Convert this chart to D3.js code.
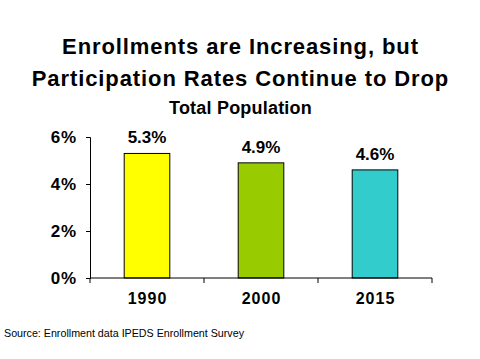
<!DOCTYPE html>
<html><head><meta charset="utf-8">
<script src="https://cdn.jsdelivr.net/npm/d3@7"></script>
<style>body{margin:0;background:#fff}svg{display:block}text{font-family:Arial,"Liberation Sans",sans-serif}</style>
</head><body>
<script>
const categories = ["1990", "2000", "2015"];
const values = [5.3, 4.9, 4.6];
const valueLabels = ["5.3%", "4.9%", "4.6%"];
const colors = ["#FFFF00", "#99CC00", "#33CCCC"];
const yTicks = [0, 2, 4, 6];
const titleLines = ["Enrollments are Increasing, but", "Participation Rates Continue to Drop"];
const subtitle = "Total Population";
const source = "Source: Enrollment data IPEDS Enrollment Survey";

const W = 480, H = 359;
const svg = d3.select("body").append("svg").attr("width", W).attr("height", H);

const x = d3.scaleBand().domain(categories).range([90, 432]).paddingInner(0.6).paddingOuter(0.3);
const y = d3.scaleLinear().domain([0, 6]).range([278, 137]);

svg.selectAll("text.title").data(titleLines).enter().append("text")
  .attr("x", 240.5).attr("y", (d, i) => 54 + i * 32)
  .attr("text-anchor", "middle").attr("font-size", 22).attr("font-weight", "bold")
  .attr("letter-spacing", 0.9).text(d => d);
svg.append("text").attr("x", 240.5).attr("y", 114).attr("text-anchor", "middle")
  .attr("font-size", 18).attr("font-weight", "bold").attr("letter-spacing", 0.2).text(subtitle);

svg.selectAll("rect.bar").data(values).enter().append("rect")
  .attr("x", (d, i) => x(categories[i])).attr("width", x.bandwidth())
  .attr("y", d => y(d)).attr("height", d => y(0) - y(d))
  .attr("fill", (d, i) => colors[i]).attr("stroke", "#000").attr("stroke-width", 1);

svg.selectAll("text.vl").data(values).enter().append("text")
  .attr("x", (d, i) => x(categories[i]) + x.bandwidth() / 2).attr("y", d => y(d) - 10)
  .attr("text-anchor", "middle").attr("font-size", 17).attr("font-weight", "bold")
  .text((d, i) => valueLabels[i]);

const yAxis = d3.axisLeft(y).tickValues(yTicks).tickFormat(d => d + "%").tickSize(4).tickPadding(9);
const gy = svg.append("g").attr("transform", "translate(90,0)").call(yAxis);
gy.selectAll("text").attr("font-size", 17).attr("font-weight", "bold").attr("font-family", "Arial")
  .attr("letter-spacing", 0.8).attr("fill", "#000");
gy.select(".domain").attr("stroke", "#000");

const xOuter = d3.scalePoint().domain(d3.range(categories.length + 1)).range([90, 432]);
const gx = svg.append("g").attr("transform", "translate(0,278)");
gx.append("line").attr("x1", 90).attr("x2", 432).attr("stroke", "#000");
gx.selectAll("line.t").data(xOuter.domain()).enter().append("line")
  .attr("x1", d => xOuter(d)).attr("x2", d => xOuter(d)).attr("y1", 0).attr("y2", 5).attr("stroke", "#000");
gx.selectAll("text").data(categories).enter().append("text")
  .attr("x", d => x(d) + x.bandwidth() / 2 + 0.5).attr("y", 26).attr("text-anchor", "middle")
  .attr("font-size", 16).attr("font-weight", "bold").attr("letter-spacing", 1).text(d => d);

svg.append("text").attr("x", 4).attr("y", 337).attr("font-size", 10.7).text(source);
</script>
</body></html>
